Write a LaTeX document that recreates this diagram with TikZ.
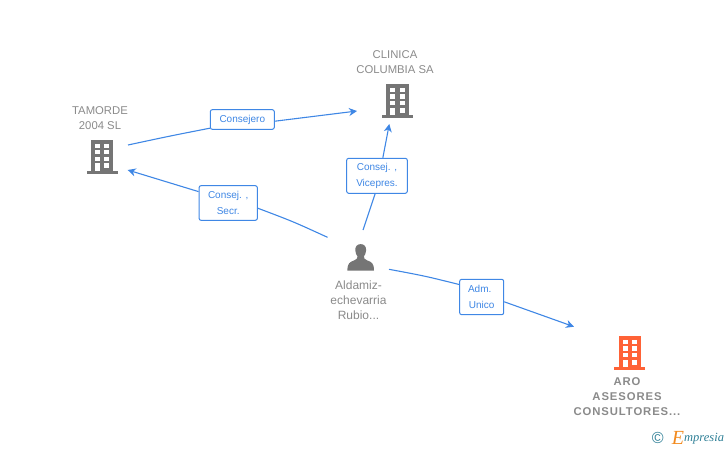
\documentclass[tikz,border=0pt]{standalone}
\usepackage{fontspec}
\setmainfont{Liberation Sans}
\newfontfamily\logofont{Liberation Serif}
\usetikzlibrary{arrows.meta}

\definecolor{linkblue}{HTML}{3F87E5}
\definecolor{iconGray}{HTML}{757575}
\definecolor{textGray}{HTML}{8A8A8A}
\definecolor{orangeco}{HTML}{FF6236}
\definecolor{logoteal}{HTML}{2E7F96}
\definecolor{logoorange}{HTML}{F28A1E}

\begin{document}
\begin{tikzpicture}[x=1pt, y=-1pt,
  edge/.style={draw=linkblue, line width=1.1pt,
    -{Stealth[length=8pt, width=8pt, inset=2.5pt]}},
  plainedge/.style={draw=linkblue, line width=1.1pt},
  %
  role/.style={rectangle, rounded corners=2pt, draw=linkblue, line width=1pt,
    fill=white, text=linkblue, inner sep=0pt, align=center,
    font=\fontsize{10}{15.3}\selectfont},
  %
  company/.style={text=textGray, inner sep=0pt, align=center,
    font=\fontsize{11.3}{15}\selectfont},
  %
  target/.style={text=textGray, inner sep=0pt, align=center,
    font=\fontsize{11.3}{15}\selectfont\bfseries\addfontfeature{LetterSpace=8}},
  %
  person/.style={text=textGray, inner sep=0pt, align=center,
    font=\fontsize{12}{15}\selectfont},
  %
  pics/building/.style={code={
    \fill [#1] (-11.2,-16.7) rectangle (11.2,15);
    \fill [#1] (-15.5,14.3) rectangle (15.5,16.8);
    \foreach \wy/\wh in {-13.2/4, -6.7/4.3, 0/4.3} {
      \fill [white] (-7.2,\wy) rectangle ++(5,\wh);
      \fill [white] (2.1,\wy) rectangle ++(5,\wh);
    }
    \fill [white] (-7.2,6.7) rectangle ++(5,7.6);
    \fill [white] (2.1,6.7) rectangle ++(5,5);
  }},
  %
  pics/user/.style={code={
    \fill [#1] (0,-13.3) .. controls (3.8,-13.3) and (5.6,-10.6) .. (5.4,-7)
      .. controls (5.2,-4.2) and (4.2,-2.2) .. (3.2,-1)
      .. controls (3,1) and (4,1.8) .. (6.5,3)
      .. controls (11,4.6) and (13.3,5.8) .. (13.3,13.3)
      -- (-13.3,13.3)
      .. controls (-13.3,5.8) and (-11,4.6) .. (-6.5,3)
      .. controls (-4,1.8) and (-3,1) .. (-3.2,-1)
      .. controls (-4.2,-2.2) and (-5.2,-4.2) .. (-5.4,-7)
      .. controls (-5.6,-10.6) and (-3.8,-13.3) .. (0,-13.3) -- cycle;
  }}
  ]

  \useasboundingbox (0,0) rectangle (728,450);

  % companies and person
  \node [company] (tamorde) at (100,118.5) {TAMORDE\\2004 SL};
  \pic at (102.2,156.7) {building=iconGray};

  \node [company] (clinica) at (395,62.5) {CLINICA\\COLUMBIA SA};
  \pic at (397.5,101) {building=iconGray};

  \node [target] (aro) at (627,397) {ARO\\ASESORES\\CONSULTORES...};
  \pic at (629.7,353) {building=orangeco};

  \pic at (360.7,257.4) {user=iconGray};
  \node [person] (aldamiz) at (358.5,300) {Aldamiz-\\echevarria\\Rubio...};

  % roles
  \node [role, minimum width=64pt, minimum height=19.6pt] (consejero)
    at (242.3,119.5) {Consejero};
  \node [role, minimum width=58.3pt, minimum height=34.6pt] (secr)
    at (228.2,203) {Consej. ,\\Secr.};
  \node [role, minimum width=60.6pt, minimum height=35pt] (vicepres)
    at (377,175.8) {Consej. ,\\Vicepres.};
  \node [role, minimum width=44pt, minimum height=35.4pt] (adm)
    at (481.7,297) {Adm.\hspace*{4pt}\\Unico};

  % free ends beside the icons
  \coordinate (tamordeOut) at (128,145);
  \coordinate (tamordeIn) at (127.7,170);
  \coordinate (clinicaLeft) at (357,111);
  \coordinate (clinicaIn) at (389.3,124);
  \coordinate (aroIn) at (574,326.7);
  \coordinate (aldamizLeft) at (327.5,237.3);
  \coordinate (aldamizUp) at (363,230);
  \coordinate (aldamizRight) at (389,269.3);

  % connectors
  \draw [plainedge] (tamordeOut) .. controls (170,136) .. (consejero.195);
  \draw [edge] (consejero.-3) -- (clinicaLeft);
  \draw [plainedge] (aldamizLeft) .. controls (293,221.5) .. (secr.-10);
  \draw [edge] (secr.159) -- (tamordeIn);
  \draw [plainedge] (aldamizUp) -- (vicepres.-96.5);
  \draw [edge] (vicepres.72) -- (clinicaIn);
  \draw [plainedge] (aldamizRight) .. controls (425,276) .. (adm.151.4);
  \draw [edge] (adm.-12) -- (aroIn);

  % logo
  \node [text=logoteal, inner sep=0pt, font=\fontsize{16}{16}\selectfont] (copyr)
    at (657.7,438.3) {©};
  \node [text=logoorange, inner sep=0pt, font=\logofont\itshape\fontsize{20}{20}\selectfont]
    (logoE) at (678,438) {E};
  \node [text=logoteal, inner sep=0pt, anchor=west, font=\logofont\itshape\fontsize{12.5}{12.5}\selectfont]
    (logoText) at (684,439) {mpresia};
\end{tikzpicture}
\end{document}
